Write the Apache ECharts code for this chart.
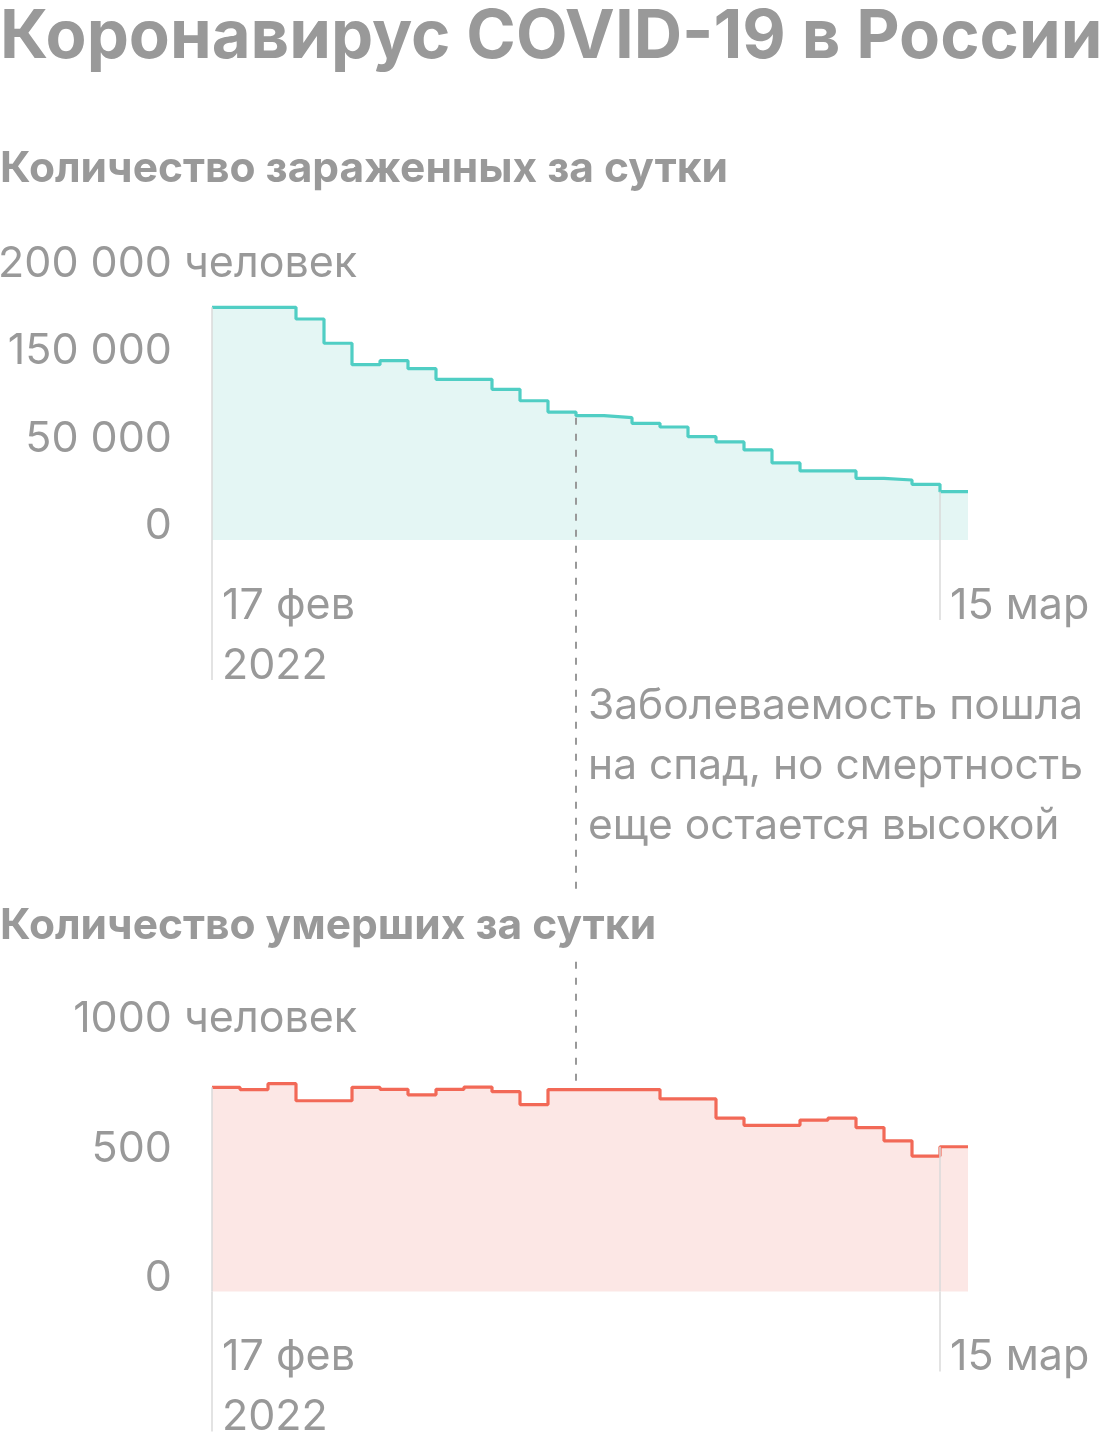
<!DOCTYPE html>
<html>
<head>
<meta charset="utf-8">
<script src="https://cdn.jsdelivr.net/npm/echarts@6/dist/echarts.min.js"></script>
<style>
  html, body { margin: 0; padding: 0; background: #fff; }
  #chart { width: 1120px; height: 1448px; }
</style>
</head>
<body>
<div id="chart"></div>
<script>
// daily values, 17 Feb 2022 .. 15 Mar 2022 (day index 0..26)
const cases = [177300, 177300, 177300, 168400, 149900, 133600, 136600, 130500, 122400, 122400,
  114800, 106100, 97500, 94700, 93200, 88900, 86100, 78700, 74700, 68600,
  58700, 52600, 52600, 47000, 45700, 42400, 36800]
const deaths = [790, 781, 804, 738, 738, 790, 782, 761, 782, 791,
  773, 723, 781, 781, 781, 781, 745, 745, 671, 643,
  643, 663, 671, 634, 583, 524, 560]

const xTickDays = [0, 26]
const xTickLabels = ['17 фев\n2022', '15 мар']
const casesTickLabels = ['0', '50 000', '150 000', '200 000']
const deathsTickLabels = ['0', '500', '1000']
const unitName = 'человек'

const noteDay = 13
const noteText = 'Заболеваемость пошла\nна спад, но смертность\nеще остается высокой'

const FONT = 'Inter'
const GREY = '#999999'
const TICK = '#dadada'

const chart = echarts.init(document.getElementById('chart'))

// step 'end' needs one closing point so the last day gets its full width
function stepData(values) {
  const pts = values.map((v, i) => [i, v])
  pts.push([values.length, values[values.length - 1]])
  return pts
}

function dayLabel(v) {
  const i = xTickDays.indexOf(v)
  return i > -1 ? xTickLabels[i] : ''
}

function xAxisFor(gridIndex, day, tickLen) {
  return {
    gridIndex,
    type: 'value',
    min: 0,
    max: cases.length,
    position: 'bottom',
    axisLine: { show: false, onZero: false },
    splitLine: { show: false },
    axisTick: {
      show: true,
      customValues: [day],
      length: tickLen,
      lineStyle: { color: TICK, width: 1.5 }
    },
    axisLabel: {
      customValues: [day],
      formatter: dayLabel,
      align: 'left',
      padding: [0, 0, 0, 10],
      margin: 36,
      lineHeight: 60,
      fontSize: 43,
      fontFamily: FONT,
      color: GREY
    }
  }
}

const labelStyle = {
  align: 'right',
  verticalAlign: 'bottom',
  lineHeight: 27,
  margin: 14,
  fontSize: 43,
  fontFamily: FONT,
  color: GREY
}

const nameStyle = {
  align: 'left',
  verticalAlign: 'bottom',
  lineHeight: 27,
  padding: [0, 0, 0, -28],
  fontSize: 43,
  fontFamily: FONT,
  color: GREY
}

function dropLines(values) {
  return {
    silent: true,
    symbol: 'none',
    label: { show: false },
    lineStyle: { color: TICK, width: 1.5, type: 'solid' },
    data: xTickDays.map(d => [{ coord: [d, values[d]] }, { coord: [d, 0] }])
  }
}

const option = {
  animation: false,
  backgroundColor: '#fff',
  title: [
    {
      text: 'Коронавирус COVID-19 в России',
      left: 0, top: 2, padding: 0,
      textStyle: { fontSize: 67, fontWeight: 'bold', fontFamily: FONT, color: GREY, lineHeight: 72 }
    },
    {
      text: 'Количество зараженных за сутки',
      left: 0, top: 139, padding: 0,
      textStyle: { fontSize: 42.5, fontWeight: 'bold', fontFamily: FONT, color: GREY, lineHeight: 60 }
    },
    {
      text: 'Количество умерших за сутки',
      left: 0, top: 896, padding: 0,
      backgroundColor: '#fff',
      textStyle: { fontSize: 42.5, fontWeight: 'bold', fontFamily: FONT, color: GREY, lineHeight: 60 }
    }
  ],
  grid: [
    { left: 212, right: 152, top: 277.5, height: 262.5, outerBoundsMode: 'none' },
    { left: 212, right: 152, top: 1033, height: 258.5, outerBoundsMode: 'none' }
  ],
  xAxis: [
    xAxisFor(0, xTickDays[0], 140),
    xAxisFor(0, xTickDays[1], 80),
    xAxisFor(1, xTickDays[0], 140),
    xAxisFor(1, xTickDays[1], 80)
  ],
  yAxis: [
    {
      // label axis for the top chart: labels are evenly spaced
      gridIndex: 0,
      type: 'value',
      min: 0,
      max: casesTickLabels.length - 1,
      interval: 1,
      offset: 26,
      axisLine: { show: false },
      axisTick: { show: false },
      splitLine: { show: false },
      axisLabel: { ...labelStyle, formatter: v => casesTickLabels[v] },
      name: unitName,
      nameLocation: 'end',
      nameGap: 0,
      nameMoveOverlap: false,
      nameTextStyle: nameStyle
    },
    {
      gridIndex: 0,
      type: 'value',
      min: 0,
      max: 200000,
      show: false
    },
    {
      gridIndex: 1,
      type: 'value',
      min: 0,
      max: 1000,
      interval: 500,
      offset: 26,
      axisLine: { show: false },
      axisTick: { show: false },
      splitLine: { show: false },
      axisLabel: { ...labelStyle, formatter: v => deathsTickLabels[v / 500] },
      name: unitName,
      nameLocation: 'end',
      nameGap: 0,
      nameMoveOverlap: false,
      nameTextStyle: nameStyle
    }
  ],
  series: [
    {
      type: 'line',
      xAxisIndex: 0,
      yAxisIndex: 1,
      step: 'end',
      symbol: 'none',
      data: stepData(cases),
      lineStyle: { color: '#50cec4', width: 3.2 },
      areaStyle: { color: '#e4f6f4', opacity: 1 },
      markLine: dropLines(cases)
    },
    {
      type: 'line',
      xAxisIndex: 2,
      yAxisIndex: 2,
      step: 'end',
      symbol: 'none',
      data: stepData(deaths),
      lineStyle: { color: '#f26957', width: 3.2 },
      areaStyle: { color: '#fce7e5', opacity: 1 },
      markLine: dropLines(deaths)
    }
  ]
}

chart.setOption(option)

// annotation line runs from the top chart to the bottom chart on the same day
const pTop = chart.convertToPixel({ xAxisIndex: 0, yAxisIndex: 1 }, [noteDay, cases[noteDay]])
const pBottom = chart.convertToPixel({ xAxisIndex: 2, yAxisIndex: 2 }, [noteDay, deaths[noteDay]])

chart.setOption({
  graphic: [
    {
      type: 'line',
      z: 3,
      silent: true,
      shape: { x1: pTop[0], y1: pTop[1] + 2, x2: pBottom[0], y2: pBottom[1] - 2 },
      style: { stroke: '#999', lineWidth: 2, lineDash: [7, 9] }
    },
    {
      type: 'text',
      z: 3,
      silent: true,
      left: pTop[0] + 12,
      top: 676,
      style: {
        text: noteText,
        fontSize: 42.5,
        fontFamily: FONT,
        lineHeight: 60,
        fill: GREY
      }
    }
  ]
})
</script>
</body>
</html>
